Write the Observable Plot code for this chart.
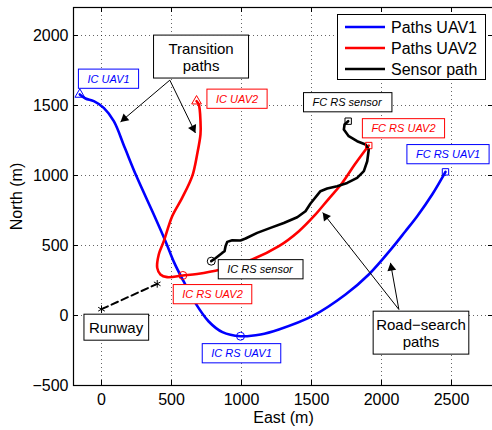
<!DOCTYPE html>
<html><head><meta charset="utf-8">
<script src="https://cdn.jsdelivr.net/npm/d3@7"></script>
<script src="https://cdn.jsdelivr.net/npm/@observablehq/plot@0.6"></script>
<style>
body{margin:0;background:#fff}
#chart svg{display:block}
</style>
</head><body><div id="chart"></div>
<script>
// ---- axis ticks ----
const xTicks = [0, 500, 1000, 1500, 2000, 2500];
const yTicks = [-500, 0, 500, 1000, 1500, 2000];

// ---- series ----
const seriesNames = ["Paths UAV1", "Paths UAV2", "Sensor path"];
const seriesColors = ["#0000ff", "#ff0000", "#000000"];

const uav1East  = [-155, -114, -55, 16, 88, 168, 250, 379, 457, 521, 586, 671, 764, 864, 993, 1136, 1267, 1505, 1743, 1909, 2076, 2171, 2255, 2362, 2457];
const uav1North = [1579, 1550, 1531, 1483, 1388, 1194, 994, 709, 531, 374, 245, 88, -41, -119, -148, -136, -100, -5, 150, 293, 483, 602, 709, 864, 1026];

const uav2East  = [679, 695, 707, 707, 683, 648, 576, 505, 445, 409, 398, 421, 469, 581, 683, 850, 1076, 1267, 1410, 1517, 1620, 1719, 1810, 1909];
const uav2North = [1531, 1507, 1388, 1293, 1150, 995, 840, 709, 531, 436, 340, 293, 274, 286, 297, 329, 400, 495, 602, 709, 830, 947, 1080, 1214];

const sensorEast  = [784, 814, 862, 879, 886, 898, 934, 993, 1029, 1112, 1207, 1302, 1398, 1457, 1493, 1564, 1612, 1683, 1755, 1826, 1874, 1898, 1909, 1886, 1826, 1766, 1731, 1736, 1762];
const sensorNorth = [388, 409, 447, 459, 495, 526, 538, 536, 550, 590, 626, 661, 702, 745, 800, 888, 907, 924, 947, 983, 1031, 1102, 1186, 1221, 1245, 1281, 1328, 1364, 1388];

const runwayEast  = [0, 398];
const runwayNorth = [45, 226];

// ---- markers ----
const startEast = [-155, 679];
const startNorth = [1579, 1531];
const startSeries = [0, 1];
const icRsEast = [993, 581, 784];
const icRsNorth = [-148, 286, 388];
const icRsSeries = [0, 1, 2];
const fcRsEast = [2457, 1909, 1762];
const fcRsNorth = [1026, 1214, 1388];
const fcRsSeries = [0, 1, 2];

// ---- callouts ----
const calloutText   = ["IC UAV1", "IC UAV2", "FC RS sensor", "FC RS UAV2", "FC RS UAV1", "IC RS sensor", "IC RS UAV2", "IC RS UAV1"];
const calloutEast   = [50, 968, 1754, 2157, 2475, 1132, 793, 1000];
const calloutNorth  = [1688, 1545, 1520, 1334, 1149, 327, 149, -273];
const calloutSeries = [0, 1, 2, 1, 0, 2, 1, 0];

const noteText  = ["Transition\npaths", "Runway", "Road\u2212search\npaths"];
const noteEast  = [711, 104, 2282];
const noteNorth = [1849, -84, -123];

const arrowFromEast  = [488, 488, 2124, 2124];
const arrowFromNorth = [1681, 1681, 43, 43];
const arrowToEast    = [136, 671, 2064, 1580];
const arrowToNorth   = [1383, 1304, 376, 735];

// ---- build tables ----
const rows = (xs, ys, s) => xs.map((x, i) => ({x, y: ys[i], s: Array.isArray(s) ? s[i] : s}));
const uav1 = rows(uav1East, uav1North, 0);
const uav2 = rows(uav2East, uav2North, 1);
const sensor = rows(sensorEast, sensorNorth, 2);
const runway = rows(runwayEast, runwayNorth, 2);
const starts = rows(startEast, startNorth, startSeries);
const icRs = rows(icRsEast, icRsNorth, icRsSeries);
const fcRs = rows(fcRsEast, fcRsNorth, fcRsSeries);
const callouts = calloutText.map((t, i) => ({t, x: calloutEast[i], y: calloutNorth[i], s: calloutSeries[i]}));
const notes = noteText.map((t, i) => ({t, x: noteEast[i], y: noteNorth[i]}));
const arrows = arrowFromEast.map((x1, i) => ({x1, y1: arrowFromNorth[i], x2: arrowToEast[i], y2: arrowToNorth[i]}));

const W = 492, H = 430, ML = 73, MR = -1, MT = 7, MB = 45;
const xDomain = [-200, 2800], yDomain = [-500, 2200];
const unitsPerPx = (yDomain[1] - yDomain[0]) / (H - MT - MB);
const headR = 3.3;
const headBack = 2 * headR * Math.sqrt(Math.PI / (3 * Math.sqrt(3))) * unitsPerPx;
const heads = arrows.map(a => {
  const dx = a.x2 - a.x1, dy = a.y2 - a.y1, n = Math.hypot(dx, dy);
  return {x: a.x2 - dx / n * headBack, y: a.y2 - dy / n * headBack, r: Math.atan2(dx, dy) * 180 / Math.PI};
});
const color = i => seriesColors[i];
const fw = W - ML - MR, fh = H - MT - MB;
const fmt = d => d < 0 ? "\u2212" + (-d) : String(d);

const svg = Plot.plot({
  width: W, height: H,
  marginLeft: ML, marginRight: MR, marginTop: MT, marginBottom: MB,
  style: {fontFamily: "'Liberation Sans', Arial, sans-serif", fontSize: "16px", color: "#000", background: "#fff", overflow: "hidden"},
  x: {domain: xDomain, label: null},
  y: {domain: yDomain, label: null},
  marks: [
    Plot.gridX(xTicks, {stroke: "#000", strokeOpacity: 0.6, strokeDasharray: "1,3"}),
    Plot.gridY(yTicks, {stroke: "#000", strokeOpacity: 0.6, strokeDasharray: "1,3"}),
    Plot.ruleX(xTicks, {x: d => d, insetTop: fh - 5, stroke: "#000"}),
    Plot.ruleX(xTicks, {x: d => d, insetBottom: fh - 5, stroke: "#000"}),
    Plot.ruleY(yTicks, {y: d => d, insetRight: fw - 5, stroke: "#000"}),
    Plot.ruleY(yTicks, {y: d => d, insetLeft: fw - 5, stroke: "#000"}),
    Plot.frame({stroke: "#000", strokeWidth: 1.2}),
    Plot.axisX(xTicks, {tickSize: 0, tickPadding: 8, label: null, fontSize: 16, tickFormat: fmt}),
    Plot.axisY(yTicks, {tickSize: 0, tickPadding: 5, label: null, fontSize: 16, tickFormat: fmt}),
    Plot.text(["East (m)"], {frameAnchor: "bottom", dy: 32, fontSize: 16, textAnchor: "middle", lineAnchor: "middle"}),
    Plot.text(["North (m)"], {frameAnchor: "left", dx: -57, rotate: -90, fontSize: 16, textAnchor: "middle", lineAnchor: "middle"}),
    Plot.line(runway, {x: "x", y: "y", stroke: "#000", strokeWidth: 2, strokeDasharray: "7,4"}),
    Plot.dot(runway, {x: "x", y: "y", symbol: "asterisk", r: 3.6, stroke: "#000", strokeWidth: 1}),
    Plot.line(uav1, {x: "x", y: "y", stroke: color(0), strokeWidth: 2.6, curve: "catmull-rom"}),
    Plot.line(uav2, {x: "x", y: "y", stroke: color(1), strokeWidth: 2.6, curve: "catmull-rom"}),
    Plot.line(sensor, {x: "x", y: "y", stroke: color(2), strokeWidth: 2.6, curve: "linear"}),
    Plot.dot(starts, {x: "x", y: "y", symbol: "triangle", r: 3.6, fill: "none", stroke: d => color(d.s), strokeWidth: 1}),
    Plot.dot(icRs, {x: "x", y: "y", symbol: "circle", r: 4, fill: "none", stroke: d => color(d.s), strokeWidth: 1}),
    Plot.dot(fcRs, {x: "x", y: "y", symbol: "square", r: 3.6, fill: "none", stroke: d => color(d.s), strokeWidth: 1}),
    Plot.text(callouts, {x: "x", y: "y", text: "t", fill: d => color(d.s), fontSize: 11, fontStyle: "italic"}),
    Plot.text(notes, {x: "x", y: "y", text: "t", fill: "#000", fontSize: 15, lineHeight: 1.13}),
    Plot.link(arrows, {x1: "x1", y1: "y1", x2: "x2", y2: "y2", stroke: "#000", strokeWidth: 1}),
    Plot.dot(heads, {x: "x", y: "y", symbol: "triangle", r: headR, rotate: "r", fill: "#000", stroke: "none"})
  ]
});
document.getElementById("chart").appendChild(svg);

// boxes behind text annotations (matched by their content)
const calloutSet = new Set(calloutText);
const noteSet = new Set(noteText.map(t => t.replace(/\n/g, "")));
function boxText(t, padX, padY, minW) {
  const b = t.getBBox();
  const w = Math.max(b.width + 2 * padX, minW);
  const h = b.height + 2 * padY;
  const r = document.createElementNS("http://www.w3.org/2000/svg", "rect");
  r.setAttribute("x", b.x + b.width / 2 - w / 2);
  r.setAttribute("y", b.y + b.height / 2 - h / 2);
  r.setAttribute("width", w);
  r.setAttribute("height", h);
  const tr = t.getAttribute("transform");
  if (tr) r.setAttribute("transform", tr);
  r.setAttribute("fill", "#fff");
  const col = t.getAttribute("fill") || t.parentNode.getAttribute("fill") || "#000";
  r.setAttribute("stroke", col);
  r.setAttribute("stroke-width", 1);
  t.parentNode.insertBefore(r, t);
}
Array.from(svg.querySelectorAll("text")).forEach(t => {
  const c = t.textContent;
  if (calloutSet.has(c)) boxText(t, 9, 3.6, 0);
  else if (noteSet.has(c)) {
    const multi = t.querySelectorAll("tspan").length > 1;
    boxText(t, multi ? 3 : 5, 4.5, multi ? 95 : 0);
  }
});

// legend (inside the axes, top right)
const lg = d3.select(svg).append("g").attr("font-size", 16).attr("text-anchor", "start");
lg.append("rect").attr("x", 337.5).attr("y", 14.5).attr("width", 148).attr("height", 65)
  .attr("fill", "#fff").attr("stroke", "#000").attr("stroke-width", 1);
seriesNames.forEach((n, i) => {
  const yy = 27 + i * 21;
  lg.append("line").attr("x1", 345).attr("x2", 385).attr("y1", yy).attr("y2", yy)
    .attr("stroke", seriesColors[i]).attr("stroke-width", 2.6);
  lg.append("text").attr("x", 391).attr("y", yy).attr("dy", "0.35em").attr("fill", "#000").text(n);
});
</script>
</body></html>
